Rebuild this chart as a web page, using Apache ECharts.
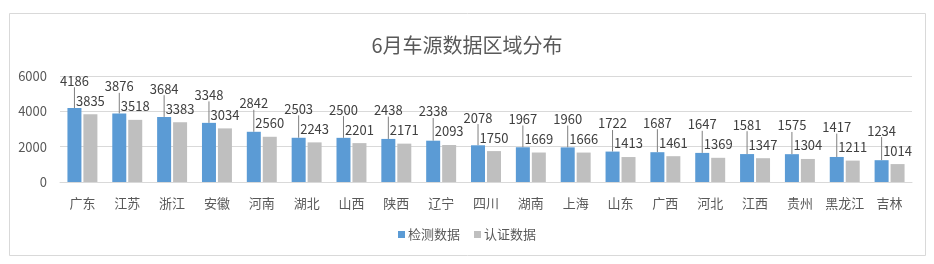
<!DOCTYPE html>
<html>
<head>
<meta charset="utf-8">
<style>
  html, body { margin: 0; padding: 0; background: #fff; }
  #chart { width: 934px; height: 264px; }
</style>
<script src="https://cdn.jsdelivr.net/npm/echarts@6/dist/echarts.min.js"></script>
</head>
<body>
<div id="chart"></div>
<script>
// 6月车源数据区域分布
var regions = ['广东', '江苏', '浙江', '安徽', '河南', '湖北', '山西', '陕西', '辽宁', '四川',
	'湖南', '上海', '山东', '广西', '河北', '江西', '贵州', '黑龙江', '吉林'];
var checkData = [4186, 3876, 3684, 3348, 2842, 2503, 2500, 2438, 2338, 2078,
	1967, 1960, 1722, 1687, 1647, 1581, 1575, 1417, 1234];
var certData = [3835, 3518, 3383, 3034, 2560, 2243, 2201, 2171, 2093, 1750,
	1669, 1666, 1413, 1461, 1369, 1347, 1304, 1211, 1014];
var seriesNames = ['检测数据', '认证数据'];
var yTicks = [0, 2000, 4000, 6000];

var textColor = '#595959';
var font = '"Noto Sans CJK SC", "Noto Sans", sans-serif';

var myChart = echarts.init(document.getElementById('chart'));

// 检测数据的标签抬到认证数据标签上方，避免重叠
function liftCheckLabel(params)
{
	var i = params.dataIndex,
		val = checkData[i],
		scale = params.rect.height / val,
		dy = (val - certData[i]) * scale - 20;
	return {dy: Math.min(dy, -9)};
}

var option = {
	backgroundColor: '#fff',
	animation: false,
	title: {
		text: '6月车源数据区域分布',
		left: 'center',
		top: 30,
		textStyle: {color: textColor, fontSize: 20, fontWeight: 'normal', fontFamily: font}
	},
	graphic: [{
		type: 'rect',
		shape: {x: 9.5, y: 13.5, width: 916, height: 242},
		style: {fill: 'none', stroke: '#d9d9d9', lineWidth: 1},
		silent: true
	}],
	legend: {
		data: seriesNames,
		bottom: 18,
		left: 'center',
		itemWidth: 7,
		itemHeight: 7,
		itemGap: 14,
		icon: 'rect',
		textStyle: {color: textColor, fontSize: 13, fontFamily: font, padding: [0, 0, 0, -2]}
	},
	grid: {left: 60, right: 22, top: 76, bottom: 82},
	xAxis: {
		type: 'category',
		data: regions,
		axisLine: {lineStyle: {color: '#d9d9d9'}},
		axisTick: {show: false},
		axisLabel: {color: textColor, fontSize: 13, fontFamily: font, margin: 15, interval: 0}
	},
	yAxis: {
		type: 'value',
		min: yTicks[0],
		max: yTicks[yTicks.length - 1],
		interval: 2000,
		axisLine: {show: false},
		axisTick: {show: false},
		axisLabel: {
			color: textColor,
			fontSize: 13,
			fontFamily: font,
			margin: 13,
			formatter: function(v) { return String(v); }
		},
		splitLine: {lineStyle: {color: '#d9d9d9'}}
	},
	series: [
		{
			name: seriesNames[0],
			type: 'bar',
			data: checkData,
			barWidth: 14,
			barGap: '14%',
			itemStyle: {color: '#5b9bd5'},
			label: {
				show: true,
				position: 'top',
				distance: 7,
				color: '#404040',
				fontSize: 13,
				fontFamily: font
			},
			labelLayout: liftCheckLabel,
			labelLine: {show: true, lineStyle: {color: '#7f7f7f', width: 1}}
		},
		{
			name: seriesNames[1],
			type: 'bar',
			data: certData,
			barWidth: 14,
			itemStyle: {color: '#bfbfbf'},
			label: {
				show: true,
				position: 'top',
				distance: 7,
				color: '#404040',
				fontSize: 13,
				fontFamily: font
			}
		}
	]
};

myChart.setOption(option);
</script>
</body>
</html>
